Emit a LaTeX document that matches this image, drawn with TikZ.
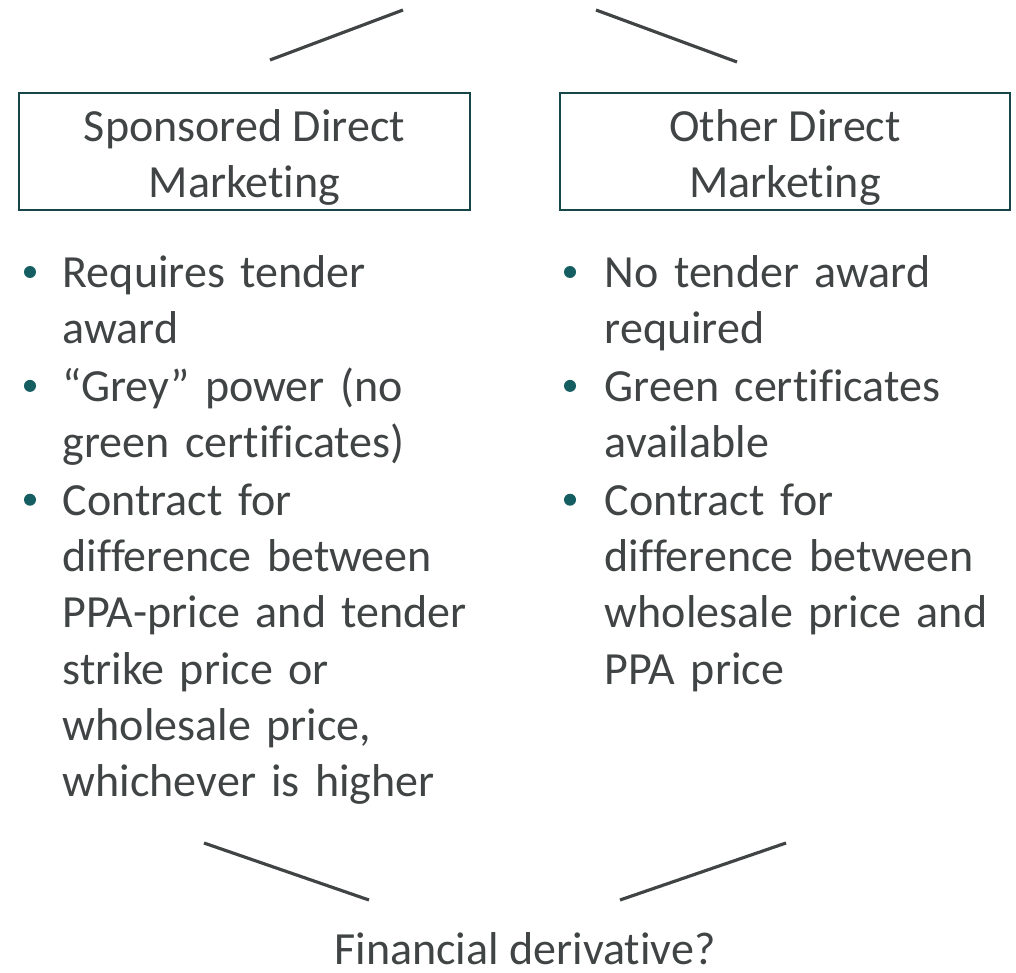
\documentclass[tikz,border=0pt]{standalone}
\usepackage{fontspec}
\setmainfont[RawFeature=-liga]{Carlito}
\usepackage{tikz}
\usetikzlibrary{positioning}
\definecolor{txtgray}{RGB}{64,68,68}
\definecolor{boxteal}{RGB}{22,70,72}
\definecolor{dotteal}{RGB}{20,94,98}

\begin{document}
\begin{tikzpicture}[
  every node/.style={text=txtgray,font=\fontsize{13.1}{16}\selectfont},
  mktbox/.style={draw=boxteal,line width=0.75pt,align=center,minimum height=1.17cm,inner sep=0pt},
  item/.style={anchor=north west,text width=4.2cm,align=left,inner sep=0pt},
  dot/.style={circle,fill=dotteal,inner sep=0pt,minimum size=0.12cm},
  link/.style={draw=txtgray,line width=0.9pt}]
  \useasboundingbox (0,0) rectangle (10.16,-9.73);

  % the two boxes
  \node[mktbox,minimum width=4.51cm] (sdm) at (2.445,-1.515) {\rule{0pt}{12.5pt}Sponsored Direct\\Marketing};
  \node[mktbox,minimum width=4.50cm] (odm) at (7.85,-1.515) {\rule{0pt}{12.5pt}Other Direct\\Marketing};

  % left list
  \node[item] (sdm1) at (0.62,-2.475) {\strut Requires tender\\award\strut};
  \node[item,below=0pt of sdm1.south west,anchor=north west] (sdm2) {\strut “Grey” power (no\\green certificates)\strut};
  \node[item,below=0pt of sdm2.south west,anchor=north west] (sdm3) {\strut Contract for\\difference between\\PPA-price and tender\\strike price or\\wholesale price,\\whichever is higher\strut};

  % right list
  \node[item] (odm1) at (6.04,-2.475) {\strut No tender award\\required\strut};
  \node[item,below=0pt of odm1.south west,anchor=north west] (odm2) {\strut Green certificates\\available\strut};
  \node[item,below=0pt of odm2.south west,anchor=north west] (odm3) {\strut Contract for\\difference between\\wholesale price and\\PPA price\strut};

  \foreach \i in {sdm1,sdm2,sdm3}
    \node[dot] at ([xshift=-0.32cm,yshift=-0.245cm]\i.north west) {};
  \foreach \i in {odm1,odm2,odm3}
    \node[dot] at ([xshift=-0.34cm,yshift=-0.245cm]\i.north west) {};

  \node[anchor=base,inner sep=0pt] (fin) at (5.25,-9.64) {Financial derivative?};

  % stubs up and down
  \coordinate (tl0) at (2.70,-0.60);
  \coordinate (tl1) at (4.03,-0.10);
  \coordinate (tr0) at (7.37,-0.62);
  \coordinate (tr1) at (5.96,-0.10);
  \coordinate (bl0) at (2.04,-8.43);
  \coordinate (bl1) at (3.69,-9.00);
  \coordinate (br0) at (7.86,-8.43);
  \coordinate (br1) at (6.20,-9.00);
  \draw[link] (tl0) -- (tl1);
  \draw[link] (tr0) -- (tr1);
  \draw[link] (bl0) -- (bl1);
  \draw[link] (br0) -- (br1);
\end{tikzpicture}
\end{document}
